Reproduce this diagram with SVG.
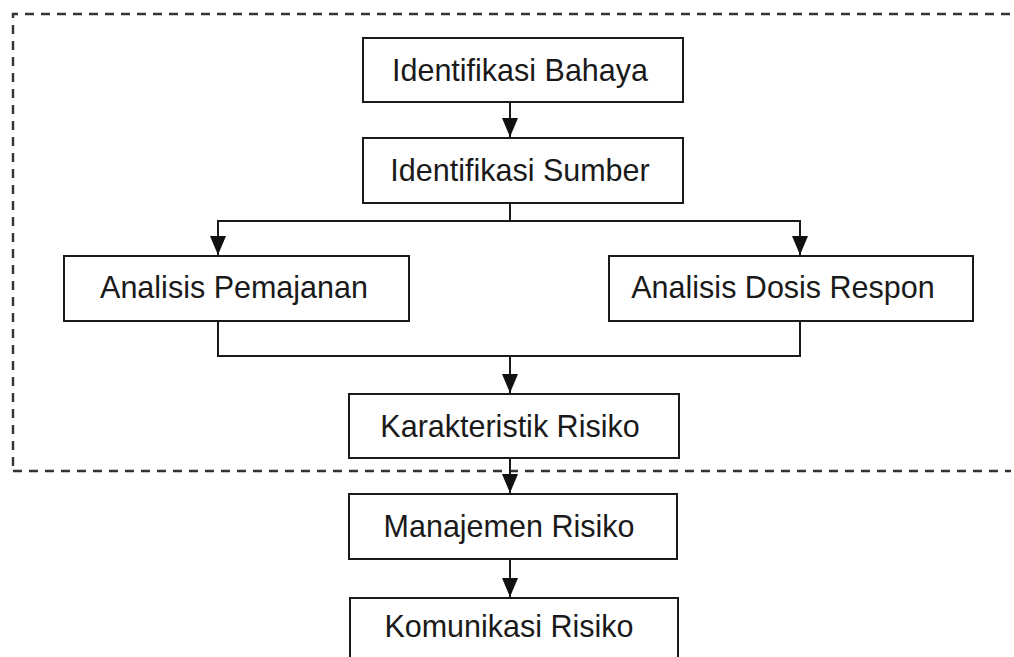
<svg xmlns="http://www.w3.org/2000/svg" width="1014" height="657" viewBox="0 0 1014 657">
<style>
.box{fill:#fff;stroke:#1a1a1a;stroke-width:2}
.lbl{font-family:"Liberation Sans",Arial,sans-serif;font-size:30.5px;fill:#1a1a1a;text-anchor:middle}
.con{fill:none;stroke:#1a1a1a;stroke-width:2}
.dash{fill:none;stroke:#333;stroke-width:2.4;stroke-dasharray:9 7}
</style>
<defs>
<marker id="arr" markerUnits="userSpaceOnUse" markerWidth="20" markerHeight="16" refX="19" refY="8" orient="auto" viewBox="0 0 20 16">
<path d="M0,0 L19,8 L0,16 Z" fill="#111"/>
</marker>
</defs>
<rect width="1014" height="657" fill="#fff"/>
<g id="boundary">
<path class="dash" d="M13,466 V14 H1011"/>
<path class="dash" d="M13,471 H1011"/>
</g>
<g id="connectors">
<path class="con" d="M510,102 V137" marker-end="url(#arr)"/>
<path class="con" d="M510,203 V221"/>
<path class="con" d="M510,221 H218 V255" marker-end="url(#arr)"/>
<path class="con" d="M510,221 H800 V255" marker-end="url(#arr)"/>
<path class="con" d="M218,321 V356 H800 V321"/>
<path class="con" d="M510,356 V393" marker-end="url(#arr)"/>
<path class="con" d="M510,458 V493" marker-end="url(#arr)"/>
<path class="con" d="M510,559 V597" marker-end="url(#arr)"/>
</g>
<g id="n1"><rect class="box" x="363" y="38" width="320" height="64"/><text class="lbl" x="520" y="81">Identifikasi Bahaya</text></g>
<g id="n2"><rect class="box" x="363" y="138" width="320" height="65"/><text class="lbl" x="520" y="181">Identifikasi Sumber</text></g>
<g id="n3"><rect class="box" x="64" y="256" width="345" height="65"/><text class="lbl" x="234" y="298">Analisis Pemajanan</text></g>
<g id="n4"><rect class="box" x="609" y="256" width="364" height="65"/><text class="lbl" x="783" y="298">Analisis Dosis Respon</text></g>
<g id="n5"><rect class="box" x="349" y="394" width="330" height="64"/><text class="lbl" x="510" y="437">Karakteristik Risiko</text></g>
<g id="n6"><rect class="box" x="349" y="494" width="328" height="65"/><text class="lbl" x="509" y="537">Manajemen Risiko</text></g>
<g id="n7"><rect class="box" x="350" y="598" width="328" height="80"/><text class="lbl" x="509" y="637">Komunikasi Risiko</text></g>
</svg>
